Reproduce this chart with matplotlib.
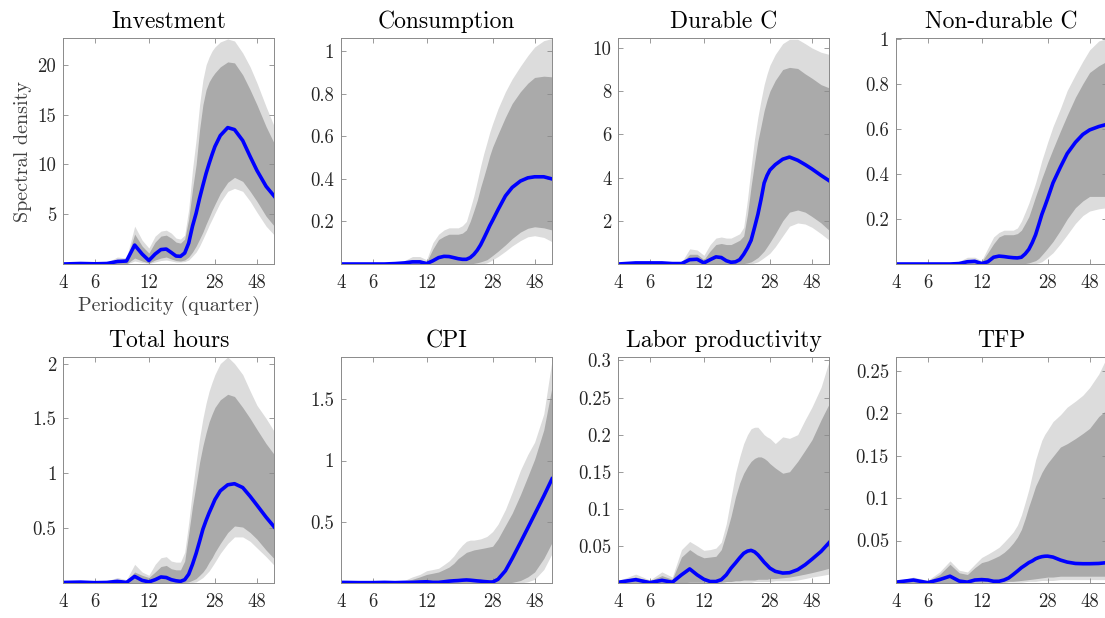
import matplotlib
matplotlib.use("Agg")
import matplotlib.pyplot as plt
from matplotlib.ticker import NullLocator

plt.rcParams['font.family'] = ['cmr10', 'DejaVu Serif']
plt.rcParams['axes.unicode_minus'] = False

# =====================================================
# DATA  (periodicity in quarters)
# =====================================================

PERIODS = [4, 5, 6, 7, 8, 9, 10, 11, 12, 13, 14, 15, 16, 17, 18,
           19, 20, 21, 22, 23, 24, 25, 26, 27, 28,
           30, 33, 36, 40, 44, 48, 54, 60]
X_TICKS = [4, 6, 12, 28, 48]

inv_med = [0, 0.05, 0.02, 0.05, 0.25, 0.3, 1.9, 1.0, 0.35, 1.0, 1.45, 1.5, 1.15, 0.8, 0.77,
           1.1, 2.1, 3.8, 5.1, 6.6, 7.9, 9.1, 10.1, 11.0, 11.8,
           12.9, 13.7, 13.5, 12.4, 10.8, 9.4, 7.8, 6.8]
inv_hi68 = [0.02, 0.05, 0.05, 0.1, 0.5, 0.4, 3.0, 1.8, 1.1, 2.2, 2.8, 2.9, 2.6, 2.2, 2.1,
            2.5, 4.5, 7.5, 10.0, 13.5, 16.0, 17.5, 18.3, 18.8, 19.2,
            19.8, 20.3, 20.2, 19.0, 17.5, 16.0, 13.8, 12.1]
inv_hi90 = [0.05, 0.1, 0.1, 0.15, 0.7, 0.6, 3.8, 2.4, 1.6, 2.8, 3.3, 3.4, 3.1, 2.6, 2.5,
            2.9, 5.5, 9.5, 12.5, 16.0, 18.5, 20.0, 20.8, 21.4, 21.8,
            22.3, 22.6, 22.4, 21.2, 19.8, 18.2, 15.8, 13.8]
inv_lo68 = [0, 0, 0, 0, 0, 0, 0.6, 0.3, 0.1, 0.4, 0.6, 0.7, 0.5, 0.35, 0.3,
            0.4, 0.7, 1.2, 1.8, 2.5, 3.2, 4.0, 4.7, 5.4, 6.0,
            7.1, 8.2, 8.7, 8.3, 7.3, 6.3, 4.8, 3.8]
inv_lo90 = [0, 0, 0, 0, 0, 0, 0.3, 0.15, 0.05, 0.2, 0.35, 0.4, 0.3, 0.2, 0.2,
            0.25, 0.4, 0.8, 1.2, 1.8, 2.5, 3.2, 3.9, 4.5, 5.1,
            6.2, 7.3, 7.6, 7.3, 6.3, 5.2, 3.8, 2.9]

con_med = [0, 0, 0, 0, 0.002, 0.005, 0.01, 0.01, 0.002, 0.015, 0.03, 0.036, 0.035, 0.03, 0.025,
           0.022, 0.022, 0.03, 0.045, 0.065, 0.09, 0.12, 0.15, 0.18, 0.205,
           0.255, 0.32, 0.36, 0.39, 0.405, 0.41, 0.41, 0.40]
con_hi68 = [0.002, 0.002, 0.002, 0.003, 0.005, 0.01, 0.02, 0.02, 0.01, 0.07, 0.115, 0.13, 0.14, 0.14, 0.14,
            0.145, 0.16, 0.2, 0.25, 0.3, 0.36, 0.41, 0.46, 0.51, 0.55,
            0.61, 0.69, 0.755, 0.81, 0.85, 0.877, 0.883, 0.88]
con_hi90 = [0.003, 0.003, 0.003, 0.005, 0.008, 0.015, 0.035, 0.035, 0.02, 0.1, 0.14, 0.16, 0.17, 0.17, 0.17,
            0.18, 0.2, 0.26, 0.32, 0.39, 0.46, 0.52, 0.57, 0.62, 0.66,
            0.73, 0.81, 0.87, 0.93, 0.98, 1.02, 1.05, 1.06]
con_lo68 = [0] * 15 + [0, 0, 0, 0.003, 0.006, 0.01, 0.015, 0.02, 0.03, 0.04,
                       0.06, 0.09, 0.12, 0.15, 0.168, 0.175, 0.17, 0.16]
con_lo90 = [0] * 15 + [0, 0, 0, 0, 0, 0, 0.002, 0.005, 0.012, 0.02,
                       0.035, 0.06, 0.085, 0.11, 0.128, 0.133, 0.125, 0.105]

dur_med = [0, 0.05, 0.05, 0.05, 0.02, 0.02, 0.2, 0.22, 0.05, 0.2, 0.33, 0.3, 0.15, 0.08, 0.1,
           0.2, 0.45, 0.75, 1.1, 1.7, 2.3, 3.0, 3.75, 4.1, 4.35,
           4.6, 4.85, 4.95, 4.8, 4.6, 4.4, 4.1, 3.85]
dur_hi68 = [0.01, 0.08, 0.08, 0.08, 0.05, 0.05, 0.45, 0.45, 0.2, 0.6, 0.9, 0.95, 0.9, 0.9, 1.0,
            1.1, 1.3, 2.3, 3.6, 4.7, 5.7, 6.4, 7.1, 7.6, 8.0,
            8.5, 9.0, 9.1, 9.05, 8.8, 8.6, 8.3, 8.15]
dur_hi90 = [0.02, 0.1, 0.1, 0.1, 0.08, 0.08, 0.7, 0.65, 0.4, 0.9, 1.2, 1.25, 1.2, 1.2, 1.3,
            1.4, 1.7, 3.0, 4.5, 5.8, 6.8, 7.6, 8.3, 8.8, 9.2,
            9.7, 10.2, 10.4, 10.4, 10.2, 10.0, 9.8, 9.7]
dur_lo68 = [0] * 15 + [0, 0.02, 0.05, 0.1, 0.2, 0.3, 0.45, 0.6, 0.8, 1.0,
                       1.4, 2.0, 2.4, 2.5, 2.4, 2.2, 1.9, 1.55]
dur_lo90 = [0] * 15 + [0, 0, 0, 0, 0.05, 0.1, 0.2, 0.3, 0.4, 0.5,
                       0.8, 1.3, 1.75, 1.9, 1.85, 1.7, 1.4, 1.1]

ndc_med = [0, 0, 0, 0, 0, 0.002, 0.01, 0.012, 0.002, 0.01, 0.03, 0.035, 0.033, 0.03, 0.028,
           0.027, 0.03, 0.045, 0.065, 0.095, 0.13, 0.175, 0.22, 0.255, 0.29,
           0.36, 0.43, 0.49, 0.54, 0.575, 0.595, 0.61, 0.62]
ndc_hi68 = [0.002, 0.002, 0.002, 0.002, 0.003, 0.008, 0.02, 0.02, 0.01, 0.05, 0.09, 0.12, 0.13, 0.13, 0.13,
            0.135, 0.15, 0.18, 0.21, 0.255, 0.3, 0.34, 0.38, 0.415, 0.45,
            0.51, 0.59, 0.66, 0.74, 0.8, 0.85, 0.88, 0.9]
ndc_hi90 = [0.003, 0.003, 0.003, 0.003, 0.005, 0.012, 0.03, 0.03, 0.015, 0.07, 0.12, 0.14, 0.15, 0.15, 0.15,
            0.16, 0.19, 0.23, 0.27, 0.315, 0.36, 0.41, 0.46, 0.5, 0.54,
            0.61, 0.69, 0.77, 0.84, 0.9, 0.95, 0.99, 1.0]
ndc_lo68 = [0] * 15 + [0, 0, 0.002, 0.005, 0.01, 0.015, 0.025, 0.04, 0.055, 0.07,
                       0.1, 0.15, 0.2, 0.25, 0.28, 0.3, 0.3, 0.3]
ndc_lo90 = [0] * 15 + [0, 0, 0, 0, 0, 0.002, 0.005, 0.01, 0.02, 0.03,
                       0.05, 0.09, 0.13, 0.18, 0.215, 0.235, 0.245, 0.25]

hrs_med = [0.005, 0.008, 0.003, 0.005, 0.015, 0.005, 0.06, 0.024, 0.01, 0.03, 0.055, 0.05, 0.03, 0.02, 0.015,
           0.03, 0.08, 0.17, 0.27, 0.38, 0.49, 0.57, 0.64, 0.7, 0.76,
           0.84, 0.895, 0.905, 0.87, 0.79, 0.71, 0.6, 0.51]
hrs_hi68 = [0.005, 0.01, 0.008, 0.015, 0.03, 0.02, 0.1, 0.07, 0.05, 0.1, 0.15, 0.16, 0.13, 0.12, 0.12,
            0.2, 0.45, 0.7, 0.9, 1.1, 1.25, 1.37, 1.47, 1.54, 1.6,
            1.67, 1.72, 1.7, 1.6, 1.5, 1.4, 1.27, 1.17]
hrs_hi90 = [0.008, 0.015, 0.01, 0.02, 0.05, 0.03, 0.17, 0.1, 0.07, 0.17, 0.23, 0.24, 0.2, 0.19, 0.19,
            0.28, 0.55, 0.85, 1.1, 1.32, 1.5, 1.64, 1.75, 1.83, 1.9,
            2.0, 2.06, 2.0, 1.9, 1.75, 1.62, 1.5, 1.38]
hrs_lo68 = [0] * 15 + [0.005, 0.01, 0.025, 0.04, 0.07, 0.1, 0.14, 0.19, 0.23, 0.28,
                       0.36, 0.46, 0.52, 0.51, 0.46, 0.4, 0.3, 0.22]
hrs_lo90 = [0] * 15 + [0, 0, 0.005, 0.01, 0.03, 0.05, 0.08, 0.11, 0.15, 0.19,
                       0.27, 0.36, 0.42, 0.42, 0.38, 0.32, 0.24, 0.16]

cpi_med = [0.005, 0.003, 0.003, 0.005, 0.003, 0.005, 0.005, 0.008, 0.01, 0.005, 0.005, 0.01, 0.015, 0.018, 0.02,
           0.023, 0.025, 0.023, 0.02, 0.017, 0.015, 0.012, 0.01, 0.008, 0.008,
           0.03, 0.1, 0.2, 0.33, 0.45, 0.56, 0.71, 0.85]
cpi_hi68 = [0.005, 0.005, 0.005, 0.008, 0.01, 0.015, 0.03, 0.05, 0.07, 0.08, 0.09, 0.11, 0.13, 0.16, 0.2,
            0.225, 0.25, 0.26, 0.27, 0.275, 0.28, 0.285, 0.29, 0.295, 0.3,
            0.36, 0.47, 0.57, 0.72, 0.87, 1.01, 1.25, 1.6]
cpi_hi90 = [0.006, 0.006, 0.006, 0.01, 0.015, 0.02, 0.05, 0.07, 0.1, 0.11, 0.12, 0.15, 0.18, 0.22, 0.27,
            0.31, 0.34, 0.35, 0.35, 0.355, 0.36, 0.37, 0.38, 0.4, 0.42,
            0.48, 0.6, 0.74, 0.92, 1.05, 1.15, 1.38, 1.82]
cpi_lo68 = [0] * 25 + [0, 0, 0.005, 0.02, 0.05, 0.09, 0.2, 0.33]
cpi_lo90 = [0] * 25 + [0, 0, 0, 0, 0.01, 0.03, 0.11, 0.24]

lab_med = [0.001, 0.0045, 0.0005, 0.0036, 0.001, 0.011, 0.019, 0.011, 0.005, 0.002, 0.002, 0.0045, 0.011, 0.02, 0.027,
           0.034, 0.04, 0.043, 0.044, 0.042, 0.038, 0.033, 0.028, 0.024, 0.02,
           0.0157, 0.0134, 0.0139, 0.018, 0.0246, 0.032, 0.0426, 0.0547]
lab_hi68 = [0.002, 0.008, 0.003, 0.01, 0.005, 0.035, 0.045, 0.038, 0.034, 0.035, 0.036, 0.045, 0.067, 0.09, 0.116,
            0.135, 0.148, 0.157, 0.164, 0.168, 0.17, 0.17, 0.168, 0.165, 0.161,
            0.155, 0.148, 0.15, 0.164, 0.179, 0.193, 0.22, 0.242]
lab_hi90 = [0.003, 0.012, 0.004, 0.015, 0.008, 0.045, 0.056, 0.05, 0.044, 0.045, 0.047, 0.055, 0.08, 0.115, 0.148,
            0.17, 0.188, 0.2, 0.208, 0.21, 0.21, 0.205, 0.2, 0.197, 0.195,
            0.188, 0.197, 0.195, 0.2, 0.22, 0.237, 0.264, 0.3]
lab_lo68 = [0, 0, 0, 0, 0, 0, 0.001, 0.001, 0.001, 0.001, 0.001, 0.001, 0.002, 0.002, 0.003,
            0.003, 0.004, 0.004, 0.004, 0.004, 0.005, 0.005, 0.005, 0.005, 0.006,
            0.006, 0.007, 0.008, 0.01, 0.012, 0.014, 0.017, 0.02]
lab_lo90 = [0, 0, 0, 0, 0, 0, 0, 0, 0, 0, 0, 0, 0.001, 0.001, 0.001,
            0.001, 0.001, 0.001, 0.001, 0.002, 0.002, 0.002, 0.002, 0.002, 0.002,
            0.003, 0.003, 0.003, 0.004, 0.006, 0.008, 0.01, 0.012]

tfp_med = [0.001, 0.0035, 0.0004, 0.004, 0.008, 0.0023, 0.001, 0.0035, 0.004, 0.0035, 0.002, 0.002, 0.0035, 0.006, 0.01,
           0.014, 0.018, 0.021, 0.024, 0.026, 0.0285, 0.03, 0.031, 0.0315, 0.0316,
           0.0305, 0.027, 0.0246, 0.023, 0.0227, 0.0227, 0.023, 0.024]
tfp_hi68 = [0.001, 0.005, 0.002, 0.01, 0.022, 0.012, 0.01, 0.018, 0.024, 0.026, 0.029, 0.032, 0.036, 0.041, 0.047,
            0.054, 0.063, 0.076, 0.09, 0.102, 0.114, 0.122, 0.13, 0.136, 0.141,
            0.149, 0.16, 0.164, 0.17, 0.176, 0.182, 0.196, 0.204]
tfp_hi90 = [0.002, 0.007, 0.003, 0.013, 0.026, 0.015, 0.013, 0.022, 0.03, 0.034, 0.038, 0.042, 0.048, 0.054, 0.06,
            0.068, 0.08, 0.095, 0.11, 0.128, 0.145, 0.157, 0.168, 0.175, 0.18,
            0.19, 0.198, 0.207, 0.214, 0.221, 0.23, 0.246, 0.266]
tfp_lo68 = [0, 0, 0, 0, 0, 0, 0, 0.001, 0.001, 0.001, 0.001, 0.001, 0.001, 0.002, 0.002,
            0.0025, 0.003, 0.0035, 0.004, 0.0045, 0.005, 0.0055, 0.006, 0.0065, 0.007,
            0.007, 0.008, 0.008, 0.008, 0.008, 0.008, 0.008, 0.008]
tfp_lo90 = [0, 0, 0, 0, 0, 0, 0, 0, 0, 0, 0, 0, 0, 0.001, 0.001,
            0.001, 0.001, 0.0015, 0.002, 0.002, 0.002, 0.0025, 0.003, 0.003, 0.003,
            0.003, 0.004, 0.004, 0.004, 0.004, 0.004, 0.004, 0.004]

TITLES = ["Investment", "Consumption", "Durable C", "Non-durable C",
          "Total hours", "CPI", "Labor productivity", "TFP"]
Y_TICKS = [[5, 10, 15, 20], [0.2, 0.4, 0.6, 0.8, 1], [2, 4, 6, 8, 10], [0.2, 0.4, 0.6, 0.8, 1],
           [0.5, 1, 1.5, 2], [0.5, 1, 1.5], [0.05, 0.1, 0.15, 0.2, 0.25, 0.3], [0.05, 0.1, 0.15, 0.2, 0.25]]
Y_MAX = [22.7, 1.0625, 10.46, 1.003, 2.06, 1.845, 0.3047, 0.266]

SERIES = [
    (inv_med, inv_lo68, inv_hi68, inv_lo90, inv_hi90),
    (con_med, con_lo68, con_hi68, con_lo90, con_hi90),
    (dur_med, dur_lo68, dur_hi68, dur_lo90, dur_hi90),
    (ndc_med, ndc_lo68, ndc_hi68, ndc_lo90, ndc_hi90),
    (hrs_med, hrs_lo68, hrs_hi68, hrs_lo90, hrs_hi90),
    (cpi_med, cpi_lo68, cpi_hi68, cpi_lo90, cpi_hi90),
    (lab_med, lab_lo68, lab_hi68, lab_lo90, lab_hi90),
    (tfp_med, tfp_lo68, tfp_hi68, tfp_lo90, tfp_hi90),
]

# =====================================================
# LAYOUT (pixels in a 1105 x 618 canvas)
# =====================================================

FIG_W, FIG_H = 1105, 618
COL_LEFT = [63.3, 341.0, 618.3, 896.0]
ROW_TOP = [38.0, 357.0]
AX_W, AX_H = 211.0, 226.0

LIGHT = "#dcdcdc"
DARK = "#aaaaaa"
EDGE = "#8a8a8a"
TEXT = "#262626"

fig = plt.figure(figsize=(FIG_W / 100, FIG_H / 100), dpi=100)

for i, title in enumerate(TITLES):
    r, c = divmod(i, 4)
    rect = [COL_LEFT[c] / FIG_W, 1 - (ROW_TOP[r] + AX_H) / FIG_H, AX_W / FIG_W, AX_H / FIG_H]
    ax = fig.add_axes(rect)
    med, lo68, hi68, lo90, hi90 = SERIES[i]

    ax.fill_between(PERIODS, lo90, hi90, color=LIGHT, lw=0)
    ax.fill_between(PERIODS, lo68, hi68, color=DARK, lw=0)
    ax.plot(PERIODS, med, color="blue", lw=2.6, solid_joinstyle="round")

    ax.set_xscale("log")
    ax.set_xlim(4, 60)
    ax.set_xticks(X_TICKS)
    ax.set_xticklabels([str(t) for t in X_TICKS])
    ax.xaxis.set_minor_locator(NullLocator())

    ax.set_ylim(0, Y_MAX[i])
    ax.set_yticks(Y_TICKS[i])
    ax.set_yticklabels(["%g" % t for t in Y_TICKS[i]])

    ax.tick_params(direction="in", top=True, right=True, length=3.5, width=0.6,
                   colors=EDGE, labelcolor=TEXT, labelsize=13.5)
    ax.tick_params(axis="x", pad=7)
    ax.tick_params(axis="y", pad=5)
    for sp in ax.spines.values():
        sp.set_color(EDGE)
        sp.set_linewidth(0.7)

    ax.set_title(title, fontsize=17, pad=7, color="black")

    if i == 0:
        ax.set_ylabel("Spectral density", fontsize=14.5, color="#404040", labelpad=4)
        ax.set_xlabel("Periodicity (quarter)", fontsize=14.5, color="#404040", labelpad=3)

fig.savefig("out.png", dpi=100)
